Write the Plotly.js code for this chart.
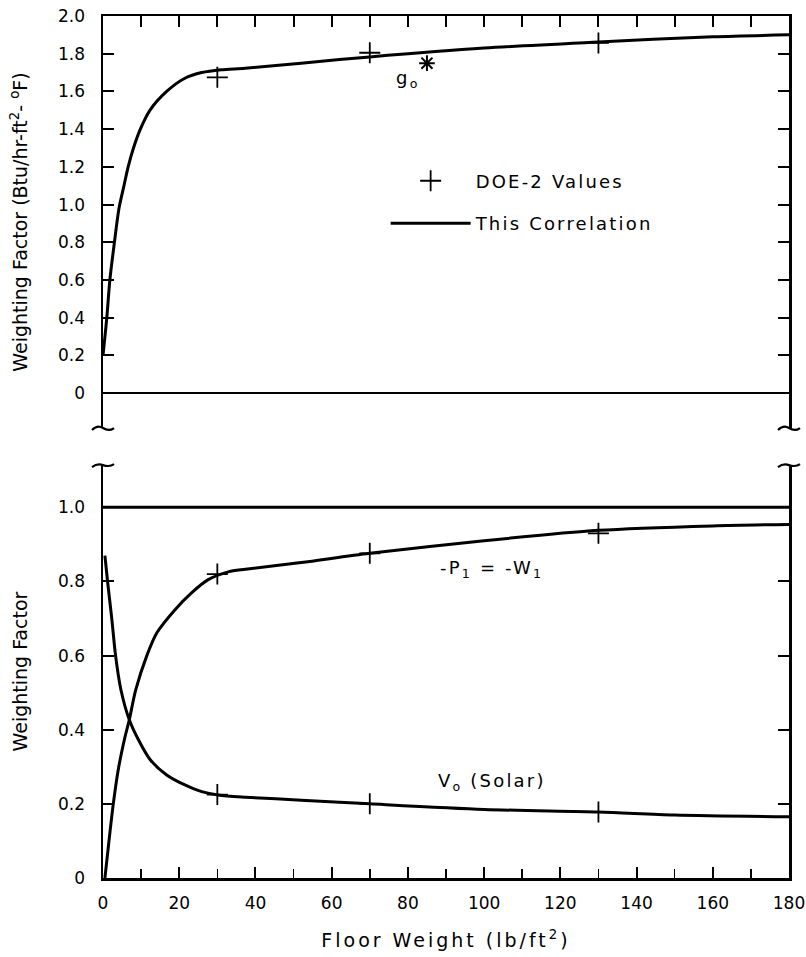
<!DOCTYPE html>
<html>
<head>
<meta charset="utf-8">
<script src="https://cdn.plot.ly/plotly-3.0.1.min.js"></script>
<style>
html,body{margin:0;padding:0;background:#fff;}
#chart{width:806px;height:957px;}
.legendtext, .annotation-text { letter-spacing: 2.2px; }
.xtitle { letter-spacing: 3px; }
</style>
</head>
<body>
<div id="chart"></div>
<script>
// ---- Data ----
// Upper panel: g0 correlation curve
const g0X = [0, 1, 1.8, 3, 4.2, 5.5, 6.6, 8, 9.8, 12.3, 16.7, 21.5, 25.9, 31, 37.3, 52, 70, 100, 130, 160, 180];
const g0Y = [0.2, 0.4, 0.6, 0.8, 0.98, 1.1, 1.2, 1.3, 1.4, 1.5, 1.6, 1.67, 1.70, 1.715, 1.723, 1.75, 1.783, 1.83, 1.862, 1.89, 1.90];
// Upper panel: DOE-2 values
const g0DoeX = [30, 70, 130];
const g0DoeY = [1.675, 1.805, 1.857];
const g0StarX = [85];
const g0StarY = [1.75];

// Lower panel: -P1 = -W1 correlation curve
const p1X = [0.5, 1.6, 2.7, 4.0, 5.6, 6.9, 8.6, 11.5, 14.1, 18.9, 23.3, 27.6, 32.9, 37.4, 52, 70, 100, 130, 160, 180];
const p1Y = [0, 0.103, 0.2, 0.292, 0.373, 0.427, 0.508, 0.6, 0.661, 0.724, 0.77, 0.805, 0.826, 0.833, 0.851, 0.876, 0.91, 0.938, 0.95, 0.954];
const p1DoeX = [30, 70, 130];
const p1DoeY = [0.82, 0.876, 0.93];

// Lower panel: V0 (Solar) correlation curve
const v0X = [0.5, 1.2, 2.3, 3.3, 4.7, 6.9, 9.3, 12.4, 16.7, 21.5, 25.9, 30.2, 37.4, 52, 70, 100, 130, 150, 180];
const v0Y = [0.87, 0.8, 0.7, 0.6, 0.508, 0.427, 0.373, 0.319, 0.278, 0.251, 0.233, 0.224, 0.218, 0.21, 0.2, 0.185, 0.178, 0.17, 0.165];
const v0DoeX = [30, 70, 130];
const v0DoeY = [0.225, 0.2, 0.178];

// Reference line at 1.0 in lower panel
const unityX = [0, 180];
const unityY = [1.0, 1.0];

// Tick labels
const xTickVals = [0, 20, 40, 60, 80, 100, 120, 140, 160, 180];
const xTickText = ['0', '20', '40', '60', '80', '100', '120', '140', '160', '180'];
const yTopVals = [0, 0.2, 0.4, 0.6, 0.8, 1.0, 1.2, 1.4, 1.6, 1.8, 2.0];
const yTopText = ['0', '0.2', '0.4', '0.6', '0.8', '1.0', '1.2', '1.4', '1.6', '1.8', '2.0'];
const yBotVals = [0, 0.2, 0.4, 0.6, 0.8, 1.0];
const yBotText = ['0', '0.2', '0.4', '0.6', '0.8', '1.0'];

// ---- Traces ----
const lineStyle = {color: '#000', width: 3, shape: 'spline', smoothing: 0.8};
const plusMarker = {symbol: 'cross-thin-open', size: 15, color: '#000', line: {color: '#000', width: 1.8}};

const traces = [
  {x: g0X, y: g0Y, xaxis: 'x2', yaxis: 'y2', mode: 'lines', line: lineStyle,
   name: 'This Correlation', legendgroup: 'corr', legendrank: 2, showlegend: true},
  {x: p1X, y: p1Y, xaxis: 'x', yaxis: 'y', mode: 'lines', line: lineStyle,
   legendgroup: 'corr', showlegend: false},
  {x: v0X, y: v0Y, xaxis: 'x', yaxis: 'y', mode: 'lines', line: lineStyle,
   legendgroup: 'corr', showlegend: false},
  {x: unityX, y: unityY, xaxis: 'x', yaxis: 'y', mode: 'lines',
   line: {color: '#000', width: 3}, showlegend: false},
  {x: g0DoeX, y: g0DoeY, xaxis: 'x2', yaxis: 'y2', mode: 'markers', marker: plusMarker,
   name: 'DOE-2 Values', legendgroup: 'doe', legendrank: 1, showlegend: true},
  {x: g0StarX, y: g0StarY, xaxis: 'x2', yaxis: 'y2', mode: 'markers',
   marker: {symbol: 'asterisk-open', size: 13, color: '#000', line: {color: '#000', width: 2}},
   showlegend: false},
  {x: p1DoeX, y: p1DoeY, xaxis: 'x', yaxis: 'y', mode: 'markers', marker: plusMarker,
   legendgroup: 'doe', showlegend: false},
  {x: v0DoeX, y: v0DoeY, xaxis: 'x', yaxis: 'y', mode: 'markers', marker: plusMarker,
   legendgroup: 'doe', showlegend: false}
];

const axisCommon = {
  showline: true, linecolor: '#000', linewidth: 2.5,
  ticks: 'inside', tickcolor: '#000', tickwidth: 2, ticklen: 11,
  showgrid: false, zeroline: false, fixedrange: true
};

const breakLower = 'M -11 -2 C -7 2, -3 2, 0 0 C 3 -2, 7 -3, 11 0';
const breakUpper = 'M -11 -2 C -7 1, -3 1, 0 0 C 3 -1, 7 -2, 11 1';
function breakMark(xa, ya, p) {
  return {type: 'path', xref: 'paper', yref: 'paper', xsizemode: 'pixel', ysizemode: 'pixel',
          xanchor: xa, yanchor: ya, path: p, line: {color: '#000', width: 2.2}};
}

const layout = {
  width: 806, height: 957,
  margin: {l: 103, r: 17, t: 16, b: 79},
  paper_bgcolor: '#fff', plot_bgcolor: '#fff',
  font: {family: 'DejaVu Sans', size: 17, color: '#000'},
  showlegend: true,
  legend: {
    x: 0.412, y: 0.830, xanchor: 'left', yanchor: 'top',
    bgcolor: 'rgba(0,0,0,0)', font: {size: 18, color: '#000'},
    traceorder: 'grouped', tracegroupgap: 16, itemwidth: 80
  },
  xaxis: Object.assign({}, axisCommon, {
    domain: [0, 1], anchor: 'y', range: [0, 180],
    tickvals: xTickVals, ticktext: xTickText, mirror: false,
    ticklabelstandoff: 8,
    minor: {dtick: 10, tick0: 0, ticks: 'inside', ticklen: 9, tickwidth: 1.5, tickcolor: '#000', showgrid: false},
    title: {text: 'Floor Weight (lb/ft<sup>2</sup>)', font: {size: 19}, standoff: 22}
  }),
  yaxis: Object.assign({}, axisCommon, {
    domain: [0, 0.479], anchor: 'x', range: [0, 1.114],
    tickvals: yBotVals, ticktext: yBotText, mirror: 'ticks',
    ticklabelstandoff: 12,
    title: {text: 'Weighting Factor', font: {size: 19}, standoff: 26}
  }),
  xaxis2: Object.assign({}, axisCommon, {
    domain: [0, 1], anchor: 'y2', side: 'top', range: [0, 180],
    dtick: 10, tick0: 0, showticklabels: false, mirror: false
  }),
  yaxis2: Object.assign({}, axisCommon, {
    domain: [0.522, 1], anchor: 'x2', range: [-0.185, 2.0],
    tickvals: yTopVals, ticktext: yTopText, mirror: 'ticks',
    ticklabelstandoff: 12,
    zeroline: true, zerolinecolor: '#000', zerolinewidth: 2.5,
    title: {text: 'Weighting Factor (Btu/hr-ft<sup>2</sup>- <sup>o</sup>F)', font: {size: 19}, standoff: 26}
  }),
  annotations: [
    {x: 80, y: 1.665, xref: 'x2', yref: 'y2', text: 'g<sub>o</sub>', showarrow: false, font: {size: 18}},
    {x: 102, y: 0.835, xref: 'x', yref: 'y', text: '-P<sub>1</sub> = -W<sub>1</sub>', showarrow: false, font: {size: 18}},
    {x: 102, y: 0.26, xref: 'x', yref: 'y', text: 'V<sub>o</sub> (Solar)', showarrow: false, font: {size: 18}}
  ],
  shapes: [
    breakMark(0, 0.522, breakLower),
    breakMark(1, 0.522, breakLower),
    breakMark(0, 0.479, breakUpper),
    breakMark(1, 0.479, breakUpper)
  ]
};

Plotly.newPlot('chart', traces, layout, {displayModeBar: false, staticPlot: true});
</script>
</body>
</html>
